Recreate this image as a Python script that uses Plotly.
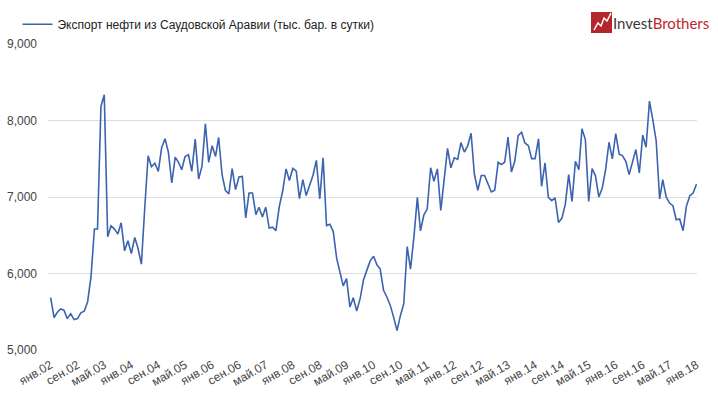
import pandas as pd
import plotly.graph_objects as go

series_name = "Экспорт нефти из Саудовской Аравии (тыс. бар. в сутки)"

export_values = [
    5685, 5423, 5490, 5536, 5520, 5410, 5475, 5397, 5410, 5485,
    5506, 5628, 5955, 6581, 6581, 8184, 8337, 6480, 6624, 6580,
    6515, 6663, 6296, 6427, 6262, 6472, 6330, 6122, 6850, 7540,
    7395, 7442, 7334, 7643, 7761, 7587, 7183, 7522, 7457, 7357,
    7530, 7552, 7335, 7757, 7235, 7400, 7957, 7452, 7670, 7530,
    7778, 7291, 7087, 7039, 7370, 7096, 7261, 7270, 6726, 7052,
    7052, 6770, 6866, 6738, 6867, 6594, 6605, 6561, 6877, 7075,
    7368, 7215, 7373, 7338, 6978, 7228, 7018, 7162, 7281, 7478,
    6974, 7513, 6627, 6645, 6548, 6197, 6022, 5838, 5934, 5561,
    5684, 5509, 5671, 5912, 6044, 6165, 6225, 6110, 6062, 5781,
    5693, 5583, 5430, 5254, 5452, 5605, 6351, 6057, 6482, 6996,
    6557, 6768, 6842, 7382, 7206, 7368, 6825, 7272, 7636, 7382,
    7513, 7491, 7711, 7588, 7667, 7833, 7294, 7088, 7281, 7281,
    7162, 7066, 7090, 7454, 7424, 7454, 7782, 7327, 7467, 7803,
    7847, 7707, 7672, 7502, 7502, 7760, 7140, 7445, 6996, 6952,
    6987, 6668, 6725, 6900, 7293, 6943, 7467, 7358, 7891, 7751,
    6943, 7371, 7280, 7000, 7118, 7358, 7716, 7498, 7830, 7560,
    7541, 7467, 7293, 7445, 7620, 7314, 7808, 7651, 8253, 8013,
    7729, 6974, 7227, 7000, 6921, 6886, 6703, 6712, 6559, 6878,
    7017, 7052, 7170,
]

start_month = "2002-01-01"
months = pd.date_range(start_month, periods=len(export_values), freq="MS")

tick_step_months = 8
tick_labels = [
    "янв.02", "сен.02", "май.03", "янв.04", "сен.04", "май.05", "янв.06",
    "сен.06", "май.07", "янв.08", "сен.08", "май.09", "янв.10", "сен.10",
    "май.11", "янв.12", "сен.12", "май.13", "янв.14", "сен.14", "май.15",
    "янв.16", "сен.16", "май.17", "янв.18",
]
tick_dates = [months[i] for i in range(0, len(export_values), tick_step_months)][:len(tick_labels)]

y_ticks = [5000, 6000, 7000, 8000, 9000]

fig = go.Figure()
fig.add_trace(go.Scatter(
    x=months, y=export_values, mode="lines", name=series_name,
    line=dict(color="#3b63b0", width=1.6),
))

fig.update_layout(
    width=718, height=394,
    margin=dict(l=48, r=21, t=44, b=44, autoexpand=False),
    paper_bgcolor="white", plot_bgcolor="white",
    font=dict(family="Liberation Sans, Arial, sans-serif", size=12, color="#444"),
    showlegend=True,
    legend=dict(
        orientation="h", x=-0.047, xanchor="left", y=1.112, yanchor="top",
        font=dict(size=12, color="#222"), itemwidth=30,
        bgcolor="rgba(0,0,0,0)",
    ),
    xaxis=dict(
        range=[pd.Timestamp("2001-12-08"), pd.Timestamp("2018-01-05")],
        tickvals=tick_dates, ticktext=tick_labels, tickangle=-30,
        showgrid=False, zeroline=False, showline=False, ticks="",
        tickfont=dict(size=12, color="#444"), ticklabelstandoff=5,
    ),
    yaxis=dict(
        range=[5000, 9000], tickvals=y_ticks, tickformat=",d",
        showgrid=True, gridcolor="#dedede", gridwidth=1,
        zeroline=False, showline=False, ticks="",
        tickfont=dict(size=12, color="#444"), ticklabelstandoff=10,
    ),
)

# Logo (decoration): red square with white zigzag and brand text
fig.add_shape(type="rect", xref="paper", yref="paper",
              x0=(591 - 48) / 649, x1=(612 - 48) / 649,
              y0=1 + (44 - 33) / 306, y1=1 + (44 - 12) / 306,
              fillcolor="#b3262b", line=dict(width=0), layer="above")
zig_x = [594, 598, 601, 604, 607, 611]
zig_y = [30, 23, 26, 18, 21, 13]
path = "M " + " L ".join(
    f"{(x - 48) / 649:.5f},{1 + (44 - y) / 306:.5f}" for x, y in zip(zig_x, zig_y)
)
fig.add_shape(type="path", xref="paper", yref="paper", path=path,
              line=dict(color="white", width=1.5), layer="above")
fig.add_annotation(
    xref="paper", yref="paper", x=(611 - 48) / 649, y=1 + (44 - 23) / 306,
    xanchor="left", yanchor="middle", showarrow=False,
    text="<span style='color:#3a3a3a'>Invest</span><span style='color:#c0272d'>Brothers</span>",
    font=dict(size=15, family="Lato, Liberation Sans, sans-serif"),
)

fig.write_html("out.html", config={"displayModeBar": False},
               post_script="document.body.style.margin='0';")
